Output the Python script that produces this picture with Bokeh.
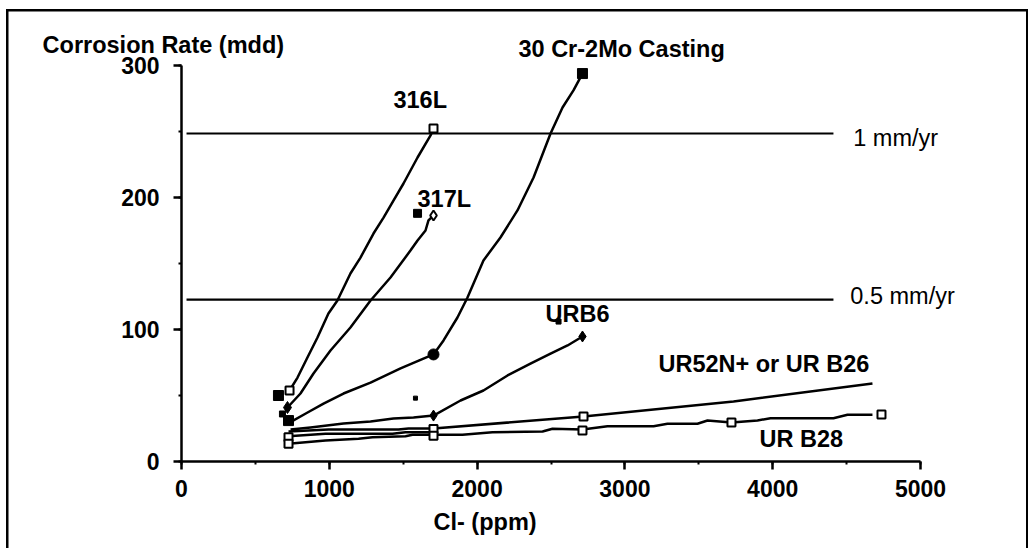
from bokeh.plotting import figure
from bokeh.models import Label, SingleIntervalTicker, Range1d
from bokeh.embed import file_html
from bokeh.resources import INLINE

# ---- data (Cl- ppm, corrosion rate mdd) ----
s316_x = [731, 785, 852, 920, 994, 1055, 1143, 1211, 1299, 1367, 1434, 1502, 1597, 1685, 1705]
s316_y = [53.8, 63.6, 78.8, 93.9, 112.1, 122.0, 142.4, 154.5, 172.7, 184.8, 197.7, 210.6, 230.3, 247.0, 252.3]
s316_mx = [731, 1705]
s316_my = [53.8, 252.3]

s317_x = [717, 805, 893, 1008, 1143, 1279, 1414, 1549, 1597, 1651, 1671, 1705]
s317_y = [40.9, 51.5, 66.7, 84.1, 101.5, 122.0, 139.4, 159.8, 167.4, 175.0, 182.6, 186.4]
s317_mx = [717, 1705]
s317_my = [40.9, 186.4]

cr_x = [731, 853, 961, 1096, 1279, 1482, 1637, 1705, 1773, 1867, 1935, 2043, 2158, 2273, 2382, 2497, 2578, 2652, 2713]
cr_y = [29.5, 37.1, 43.9, 51.5, 59.8, 70.5, 78.0, 81.1, 91.7, 109.1, 124.2, 152.3, 169.7, 190.2, 215.2, 248.5, 268.2, 281.1, 293.9]
cr_sq_x = [724, 2713]
cr_sq_y = [31.0, 293.9]
cr_ci_x = [1705]
cr_ci_y = [81.1]

urb6_x = [738, 873, 1096, 1279, 1434, 1570, 1705, 1888, 2043, 2206, 2361, 2497, 2612, 2713]
urb6_y = [24.2, 25.8, 28.8, 30.3, 32.6, 33.3, 34.8, 46.2, 53.8, 65.2, 74.2, 81.8, 87.9, 94.7]
urb6_mx = [1705, 2713]
urb6_my = [34.8, 94.7]

ur52_x = [724, 995, 1468, 1536, 1705, 2720, 3735, 4675]
ur52_y = [22.7, 24.2, 24.2, 25.0, 25.0, 34.1, 45.5, 59.1]
ur52_mx = [1705, 2720]
ur52_my = [24.6, 34.1]

b26_x = [724, 974, 1428, 1516, 1705]
b26_y = [19.2, 21.0, 21.0, 22.2, 22.2]
b26_mx = [724]
b26_my = [18.4]

b28_x = [724, 974, 1198, 1292, 1516, 1563, 1705, 1901, 2104, 2443, 2510, 2713, 2882, 3194, 3288, 3491, 3559, 3721, 3897, 3985, 4411, 4506, 4675]
b28_y = [13.4, 15.9, 17.2, 18.4, 19.2, 20.2, 20.2, 20.2, 22.2, 22.7, 24.8, 24.2, 26.7, 26.7, 28.6, 28.6, 31.1, 29.5, 31.1, 32.8, 32.8, 35.4, 35.4]
b28_mx = [724, 1705, 2713, 3721, 4736]
b28_my = [13.4, 19.5, 23.5, 29.5, 35.6]

stray_x = [656, 683, 1583, 2551, 1597]
stray_y = [50.0, 36.0, 48.0, 106.0, 188.0]
stray_s = [10, 6, 4, 5, 8]

ref_x = [34, 4411]
ref_1mm = [248.5, 248.5]
ref_05mm = [122.7, 122.7]

x_ticks_interval = 1000
y_ticks_interval = 100

FONT = "Liberation Sans"

frame_css = ("linear-gradient(#000,#000) 5.5px 9.3px / 2.5px 600px no-repeat, "
             "linear-gradient(#000,#000) 5.5px 9.3px / 1022.5px 2.5px no-repeat, "
             "linear-gradient(#000,#000) 1025.5px 9.3px / 2.5px 600px no-repeat, white")

p = figure(width=1028, height=548, output_backend="svg", toolbar_location=None,
           x_range=Range1d(0, 5000), y_range=Range1d(0, 300), title=None,
           min_border_left=181, min_border_right=108, min_border_top=65, min_border_bottom=87,
           styles={"background": frame_css})
p.outline_line_color = None
p.xgrid.visible = False
p.ygrid.visible = False
p.background_fill_color = "white"
p.border_fill_color = None

for ax in (p.xaxis[0], p.yaxis[0]):
    ax.axis_line_width = 2.5
    ax.axis_line_color = "black"
    ax.major_tick_line_width = 2.5
    ax.minor_tick_line_width = 2
    ax.major_tick_in = 0
    ax.minor_tick_in = 0
    ax.major_tick_out = 8
    ax.minor_tick_out = 3
    ax.major_label_text_font = FONT
    ax.major_label_text_font_style = "bold"
    ax.major_label_text_font_size = "23px"
    ax.major_label_text_color = "black"

p.xaxis[0].ticker = SingleIntervalTicker(interval=x_ticks_interval, num_minor_ticks=2)
p.yaxis[0].ticker = SingleIntervalTicker(interval=y_ticks_interval, num_minor_ticks=2)
p.xaxis[0].major_label_standoff = 10
p.yaxis[0].major_label_standoff = 14

LW = 2.5
for xs, ys in [(s316_x, s316_y), (s317_x, s317_y), (cr_x, cr_y), (urb6_x, urb6_y),
               (ur52_x, ur52_y), (b26_x, b26_y), (b28_x, b28_y)]:
    p.line(xs, ys, line_color="black", line_width=LW, line_join="round")

p.line(ref_x, ref_1mm, line_color="black", line_width=2.2)
p.line(ref_x, ref_05mm, line_color="black", line_width=2.2)

# open squares
for mx, my in [(s316_mx, s316_my), (ur52_mx, ur52_my), (b26_mx, b26_my), (b28_mx, b28_my)]:
    p.scatter(mx, my, marker="square", size=8, fill_color="white", line_color="black", line_width=2)

p.scatter(cr_sq_x, cr_sq_y, marker="square", size=10, fill_color="black", line_color="black")
p.scatter(cr_ci_x, cr_ci_y, marker="circle", size=11, fill_color="black", line_color="black")
p.scatter(urb6_mx, urb6_my, marker="diamond", size=11, fill_color="black", line_color="black")
p.scatter(s317_mx[:1], s317_my[:1], marker="diamond", size=12, fill_color="black", line_color="black")
p.scatter(s317_mx[1:], s317_my[1:], marker="diamond", size=10, fill_color="white", line_color="black", line_width=2)
p.scatter(stray_x, stray_y, marker="square", size=stray_s, fill_color="black", line_color="black")

DY = 6.8  # baseline correction (data units)

def lab(x, y, t, bold=True, place="center"):
    l = Label(x=x, y=y + DY, text=t, text_font=FONT, text_font_size="23.5px",
              text_font_style="bold" if bold else "normal", text_color="black",
              text_align="left", text_baseline="alphabetic")
    p.add_layout(l, place)

lab(-940, 309, "Corrosion Rate (mdd)", place="above")
lab(2280, 306, "30 Cr-2Mo Casting", place="above")
lab(1434, 267, "316L")
lab(1597, 191.7, "317L")
lab(2463, 105, "URB6")
lab(3227, 67.4, "UR52N+ or UR B26")
lab(3911, 10, "UR B28")
lab(1705, -53, "Cl- (ppm)", place="below")
lab(4545, 238.4, "1 mm/yr", bold=False, place="left")
lab(4525, 118.5, "0.5 mm/yr", bold=False, place="right")

open("out.html", "w").write(file_html(p, INLINE))
